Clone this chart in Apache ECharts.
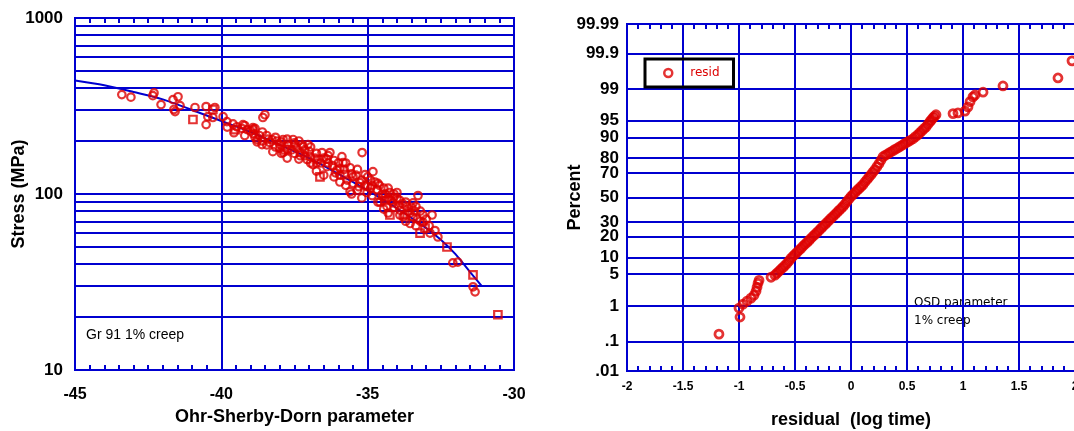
<!DOCTYPE html>
<html><head><meta charset="utf-8">
<script src="https://cdn.jsdelivr.net/npm/echarts@6/dist/echarts.min.js"></script>
<style>html,body{margin:0;padding:0;background:#fff}#c{width:1074px;height:431px}</style>
</head><body><div id="c"></div>
<script>
// ---- Left panel: Gr 91 1% creep, stress vs Ohr-Sherby-Dorn parameter ----
const circleOSD = [-43.40,-43.09,-42.30,-42.34,-42.06,-41.65,-41.48,-41.41,-41.62,-41.58,-40.90,-40.52,-40.22,-40.46,-40.52,-40.29,-39.94,-39.81,-39.57,-39.47,-39.26,-39.12,-38.92,-38.78,-38.58,-38.51,-38.61,-38.27,-38.00,-37.89,-37.55,-37.42,-37.21,-37.07,-37.31,-38.92,-38.78,-38.34,-37.89,-37.24,-37.04,-38.24,-36.97,-36.56,-36.29,-35.88,-35.19,-36.87,-36.39,-36.05,-35.84,-35.60,-35.50,-35.95,-35.60,-35.26,-35.09,-34.82,-34.75,-34.68,-35.02,-34.58,-34.48,-34.24,-34.00,-34.14,-34.34,-33.90,-33.66,-33.45,-33.28,-33.45,-33.79,-33.11,-32.80,-33.11,-32.87,-32.60,-32.09,-31.92,-31.40,-31.33,
  -39.0,-38.7,-38.4,-38.1,-37.7,-37.6,-37.3,-37.0,-36.8,-36.6,-36.4,-36.2,-36.0,-35.8,-35.7,-35.4,-35.3,-35.1,-34.9,-34.9,-34.6,-34.4,-34.2,-34.0,-33.8,-33.6,-33.5,-33.3,-33.0,-32.9,-32.7,-39.8,-39.6,-39.3,-38.9,-38.0,-37.5,-36.1,-35.5,-34.5,-34.3,-34.1,-33.95,-33.4,
  -39.2,-39.2,-38.85,-38.85,-38.6,-38.6,-38.45,-38.45,-38.15,-38.15,-37.95,-37.95,-37.75,-37.75,-37.75,-37.5,-37.5,-37.35,-37.35,-37.15,-37.15,-36.95,-36.95,-36.75,-36.75,-36.75,-36.5,-36.5,-36.35,-36.35,-36.15,-36.15,-35.95,-35.95,-35.75,-35.75,-35.55,-35.55,-35.35,-35.35,-35.2,-35.2,-35.0,-35.0,-34.85,-34.85,-34.65,-34.65,-34.45,-34.45,-34.3,-34.3,-34.1,-34.1,-33.9,-33.9,-33.7,-33.7,-33.55,-33.55,-33.35,-33.35,-33.2,-33.2];
const circleStress = [367,355,375,362,322,344,357,318,302,294,310,314,310,275,248,272,275,258,223,241,248,232,238,204,272,282,191,204,191,172,204,183,186,157,172,232,198,196,204,191,191,174,163,172,172,163,172,147,143,137,151,141,125,117,103,116,129,134,117,106,102,90,96.5,102,102,89,85,81,85,89,98,74,74,76,76,69,60,57,40.6,41,29.7,27.8,
  228,215,205,200,190,178,165,175,160,150,158,145,150,138,120,128,110,112,108,120,112,100,92,95,88,80,84,72,72,66,62,240,250,236,220,182,195,132,115,100,108,96,86,80,
  245,215,210,236,225,200,190,215,210,185,170,198,205,180,160,170,190,200,158,178,165,150,185,170,135,150,160,128,150,165,155,125,140,128,150,112,130,100,138,105,120,95,110,125,98,112,90,115,82,108,95,78,84,100,92,76,70,90,78,68,85,66,80,70];
const squareOSD = [-40.97,-36.63,-34.24,-33.21,-32.29,-31.40,-30.55,-40.29,-39.53,-37.83,-36.70,-35.78,-34.41,-33.73,-33.04];
const squareStress = [265,125,76,60,50,34.7,20.6,302,232,178,157,129,92,76,64];
const fitOSD = [-45,-44,-43,-42,-41,-40,-39,-38,-37,-36,-35,-34,-33,-32.5,-32,-31.5,-31.1];
const fitStress = [441,415,380,345,300,260,225,190,160,130,105,83,64,55,45.5,36,30];
const stressGrid = [10,20,30,40,50,60,70,80,90,100,200,300,400,500,600,700,800,900,1000];
const stressLabels = [10,100,1000];

// ---- Right panel: normal probability plot of residuals ----
const residValues = [-1.179,-0.991,-1.000,-0.964,-0.929,-0.893,-0.866,-0.848,-0.839,-0.830,-0.821,-0.714,
  -0.679,-0.661,-0.643,-0.625,-0.607,-0.589,-0.571,-0.553,-0.536,-0.518,-0.500,-0.482,-0.464,-0.446,-0.429,-0.411,-0.393,-0.375,-0.357,-0.339,-0.321,-0.303,-0.286,-0.268,-0.250,-0.232,-0.214,-0.196,-0.179,-0.161,-0.143,-0.125,-0.107,-0.089,-0.071,-0.053,-0.036,-0.018,
  0.000,0.018,0.036,0.053,0.071,0.089,0.107,0.125,0.143,0.161,0.179,0.196,0.214,0.232,0.250,0.268,0.286,0.308,0.330,0.352,0.375,0.397,0.420,0.442,0.464,0.486,0.509,0.531,0.554,0.576,0.598,0.616,0.634,0.652,0.670,0.688,0.705,0.718,0.732,0.745,0.759,
  0.911,0.955,1.018,1.045,1.063,1.089,1.107,1.179,1.357,1.848,1.973];
const residPercent = [0.17,0.52,0.89,1.11,1.31,1.55,1.81,2.23,2.72,3.30,3.80,4.37,
  4.8,5.25,5.7,6.2,6.7,7.3,7.9,8.7,9.6,10.4,11.2,12.0,12.9,13.8,14.8,15.8,16.8,17.9,19.1,20.3,21.5,22.7,24.0,25.4,26.8,28.2,29.7,31.2,32.7,34.2,35.8,37.4,39.1,40.7,42.4,44.5,46.6,48.7,
  50.9,52.6,54.3,56.0,57.6,59.2,60.9,63.0,65.0,66.9,68.8,70.7,72.5,74.6,76.6,78.8,80.9,81.8,82.6,83.4,84.2,85.0,85.7,86.4,87.1,87.8,88.4,89.0,89.6,90.4,91.1,91.8,92.4,93.0,93.5,94.2,94.8,95.2,95.6,95.9,96.2,
  96.4,96.5,96.8,97.4,98.0,98.45,98.6,98.8,99.16,99.48,99.83];
const percentTicks = [0.01,0.1,1,5,10,20,30,50,70,80,90,95,99,99.9,99.99];
const percentLabels = ['.01','.1','1','5','10','20','30','50','70','80','90','95','99','99.9','99.99'];
const residTickLabels = ['-2','-1.5','-1','-0.5','0','0.5','1','1.5','2'];

// inverse standard normal CDF (probability-axis transform)
function probit(p){
  const a=[-3.969683028665376e+01,2.209460984245205e+02,-2.759285104469687e+02,1.383577518672690e+02,-3.066479806614716e+01,2.506628277459239e+00];
  const b=[-5.447609879822406e+01,1.615858368580409e+02,-1.556989798598866e+02,6.680131188771972e+01,-1.328068155288572e+01];
  const c=[-7.784894002430293e-03,-3.223964580411365e-01,-2.400758277161838e+00,-2.549732539343734e+00,4.374664141464968e+00,2.938163982698783e+00];
  const d=[7.784695709041462e-03,3.224671290700398e-01,2.445134137142996e+00,3.754408661907416e+00];
  const pl=0.02425, ph=1-pl; let q,r;
  if(p<pl){q=Math.sqrt(-2*Math.log(p));return (((((c[0]*q+c[1])*q+c[2])*q+c[3])*q+c[4])*q+c[5])/((((d[0]*q+d[1])*q+d[2])*q+d[3])*q+1);}
  if(p<=ph){q=p-0.5;r=q*q;return (((((a[0]*r+a[1])*r+a[2])*r+a[3])*r+a[4])*r+a[5])*q/(((((b[0]*r+b[1])*r+b[2])*r+b[3])*r+b[4])*r+1);}
  q=Math.sqrt(-2*Math.log(1-p));return -(((((c[0]*q+c[1])*q+c[2])*q+c[3])*q+c[4])*q+c[5])/((((d[0]*q+d[1])*q+d[2])*q+d[3])*q+1);
}
const zTicks = percentTicks.map(p => probit(p/100));

const BLUE = '#0000d0', RED = '#dd0000';
const FONT = '"Liberation Sans", Arial, sans-serif';
const gridLine = {show:true, lineStyle:{color:BLUE, width:2}};
const ring = (w) => ({color:'rgba(0,0,0,0)', borderColor:RED, borderWidth:w});

const chart = echarts.init(document.getElementById('c'), null, {renderer:'canvas'});
chart.setOption({
  animation:false,
  backgroundColor:'#fff',
  textStyle:{fontFamily:FONT},
  grid:[
    {left:75, top:18, width:439, height:352, show:true, borderColor:BLUE, borderWidth:2, backgroundColor:'transparent', outerBoundsMode:'none', containLabel:false},
    {left:627, top:24, width:448, height:347, show:true, borderColor:BLUE, borderWidth:2, backgroundColor:'transparent', outerBoundsMode:'none', containLabel:false}
  ],
  xAxis:[
    {gridIndex:0, type:'value', min:-45, max:-30, interval:5, position:'bottom',
      axisLine:{show:false, onZero:false}, axisTick:{show:true, inside:true, length:0, lineStyle:{color:BLUE}},
      minorTick:{show:true, splitNumber:10, length:5, lineStyle:{color:BLUE, width:2}},
      splitLine:gridLine,
      axisLabel:{margin:17, color:'#000', fontWeight:'bold', fontSize:16, fontFamily:FONT},
      name:'Ohr-Sherby-Dorn parameter', nameLocation:'middle', nameGap:38, nameMoveOverlap:false,
      nameTextStyle:{color:'#000', fontWeight:'bold', fontSize:18, fontFamily:FONT}},
    {gridIndex:0, type:'value', min:-45, max:-30, interval:5, position:'top',
      axisLine:{show:false, onZero:false}, axisTick:{show:true, inside:true, length:0},
      minorTick:{show:true, splitNumber:10, length:5, lineStyle:{color:BLUE, width:2}},
      splitLine:{show:false}, axisLabel:{show:false}},
    {gridIndex:1, type:'value', min:-2, max:2, interval:0.5, position:'bottom',
      axisLine:{show:false, onZero:false}, axisTick:{show:true, inside:true, length:0},
      minorTick:{show:true, splitNumber:5, length:5, lineStyle:{color:BLUE, width:2}},
      splitLine:gridLine,
      axisLabel:{margin:10, color:'#000', fontWeight:'bold', fontSize:12, fontFamily:FONT,
        formatter:(v)=>residTickLabels[Math.round((v+2)/0.5)]},
      name:'residual  (log time)', nameLocation:'middle', nameGap:40, nameMoveOverlap:false,
      nameTextStyle:{color:'#000', fontWeight:'bold', fontSize:18, fontFamily:FONT}},
    {gridIndex:1, type:'value', min:-2, max:2, interval:0.5, position:'top',
      axisLine:{show:false, onZero:false}, axisTick:{show:true, inside:true, length:0},
      minorTick:{show:true, splitNumber:5, length:5, lineStyle:{color:BLUE, width:2}},
      splitLine:{show:false}, axisLabel:{show:false}}
  ],
  yAxis:[
    {gridIndex:0, type:'log', logBase:10, min:10, max:1000,
      axisLine:{show:false, onZero:false},
      axisTick:{show:false, customValues:stressGrid},
      splitLine:gridLine,
      axisLabel:{customValues:stressLabels, margin:12, color:'#000', fontWeight:'bold', fontSize:17, fontFamily:FONT,
        formatter:(v)=>String(Math.round(v))},
      name:'Stress (MPa)', nameLocation:'middle', nameGap:47, nameRotate:90, nameMoveOverlap:false,
      nameTextStyle:{color:'#000', fontWeight:'bold', fontSize:18, fontFamily:FONT}},
    {gridIndex:1, type:'value', min:zTicks[0], max:zTicks[zTicks.length-1],
      axisLine:{show:false, onZero:false},
      axisTick:{show:false, customValues:zTicks},
      splitLine:gridLine,
      axisLabel:{customValues:zTicks, margin:8, color:'#000', fontWeight:'bold', fontSize:17, fontFamily:FONT,
        formatter:(v)=>{let bi=0,bd=1e9;zTicks.forEach((t,i)=>{const dd=Math.abs(t-v);if(dd<bd){bd=dd;bi=i;}});return percentLabels[bi];}},
      name:'Percent', nameLocation:'middle', nameGap:43, nameRotate:90, nameMoveOverlap:false,
      nameTextStyle:{color:'#000', fontWeight:'bold', fontSize:18, fontFamily:FONT}}
  ],
  legend:{
    data:['resid'], left:645, top:59, orient:'horizontal',
    borderColor:'#000', borderWidth:3, padding:[8,14,8,18],
    itemWidth:8, itemHeight:8,
    itemStyle:{color:'rgba(0,0,0,0)', borderColor:RED, borderWidth:2.5},
    textStyle:{color:RED, fontSize:12, fontFamily:'"DejaVu Sans", sans-serif', padding:[0,0,0,13]}
  },
  series:[
    {type:'line', name:'fit', xAxisIndex:0, yAxisIndex:0, smooth:0.3, showSymbol:false, z:1,
      lineStyle:{color:BLUE, width:2}, data:fitOSD.map((x,i)=>[x, fitStress[i]])},
    {type:'scatter', name:'circles', xAxisIndex:0, yAxisIndex:0, symbol:'circle', symbolSize:7.5, z:3,
      itemStyle:ring(2.2), data:circleOSD.map((x,i)=>[x, circleStress[i]])},
    {type:'scatter', name:'squares', xAxisIndex:0, yAxisIndex:0, symbol:'rect', symbolSize:7.5, z:3,
      itemStyle:ring(2.2), data:squareOSD.map((x,i)=>[x, squareStress[i]])},
    {type:'scatter', name:'resid', xAxisIndex:2, yAxisIndex:1, symbol:'circle', symbolSize:8, z:3,
      itemStyle:ring(2.8), data:residValues.map((r,i)=>[r, probit(residPercent[i]/100)])}
  ],
  graphic:[
    {type:'text', left:86, top:328, style:{text:'Gr 91 1% creep', font:'14px "Liberation Sans", Arial', fill:'#000'}},
    {type:'text', left:914, top:294, style:{text:'OSD parameter\n1% creep', font:'12px "DejaVu Sans", sans-serif', fill:'#000', lineHeight:18}}
  ]
});
</script></body></html>
